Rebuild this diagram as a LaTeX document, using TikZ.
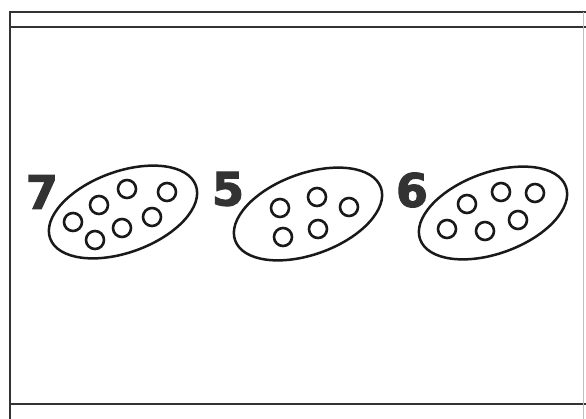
\documentclass[tikz,border=0pt]{standalone}
\usepackage{fontspec}
\setsansfont{DejaVu Sans}
\newfontfamily\heavyfont[FakeBold=2.5]{DejaVu Sans Bold}
\usetikzlibrary{shapes.geometric}

\tikzset{
  rule/.style={line width=2.4pt, draw=black!80},
  set/.style={ellipse, draw=black!90, line width=2.5pt, minimum width=155pt, minimum height=81pt, inner sep=0pt},
  dot/.style={circle, draw=black!90, line width=2.6pt, minimum size=18pt, inner sep=0pt},
  count/.style={font=\fontsize{46}{46}\selectfont\heavyfont, text=black!80, inner sep=0pt}
}

\begin{document}
\begin{tikzpicture}[x=1pt,y=-1pt]
  \useasboundingbox (0,0) rectangle (586,419);

  % frame
  \coordinate (tl) at (10,12);
  \coordinate (tr) at (586,12);
  \coordinate (ml) at (10,27);
  \coordinate (mr) at (586,27);
  \coordinate (bl) at (10,404);
  \coordinate (br) at (586,404);
  \coordinate (end) at (10,419);
  \draw[rule] (tr) -- (tl) -- (end);
  \draw[rule] (ml) -- (mr);
  \draw[rule] (bl) -- (br);
  \draw[black!25, line width=0.8pt] (583,12) -- (583,419);

  % first set
  \node[count] (sevenA) at (42,192) {7};
  \node[set, rotate=20] (setA) at (123,212) {};
  \node[dot] (a1) at (73,222) {};
  \node[dot] (a2) at (99,205) {};
  \node[dot] (a3) at (127,189) {};
  \node[dot] (a4) at (167,192) {};
  \node[dot] (a5) at (152,217) {};
  \node[dot] (a6) at (122,228) {};
  \node[dot] (a7) at (95,240) {};

  % second set
  \node[count] (fiveB) at (228,189) {5};
  \node[set, rotate=20] (setB) at (308,214) {};
  \node[dot] (b1) at (280,208) {};
  \node[dot] (b2) at (317,197) {};
  \node[dot] (b3) at (349,207) {};
  \node[dot] (b4) at (283,237) {};
  \node[dot] (b5) at (318,229) {};

  % third set
  \node[count] (sixC) at (412,190) {6};
  \node[set, rotate=20] (setC) at (493,213) {};
  \node[dot] (c1) at (467,204) {};
  \node[dot] (c2) at (501,192) {};
  \node[dot] (c3) at (535,193) {};
  \node[dot] (c4) at (447,229) {};
  \node[dot] (c5) at (485,231) {};
  \node[dot] (c6) at (518,220) {};
\end{tikzpicture}
\end{document}
